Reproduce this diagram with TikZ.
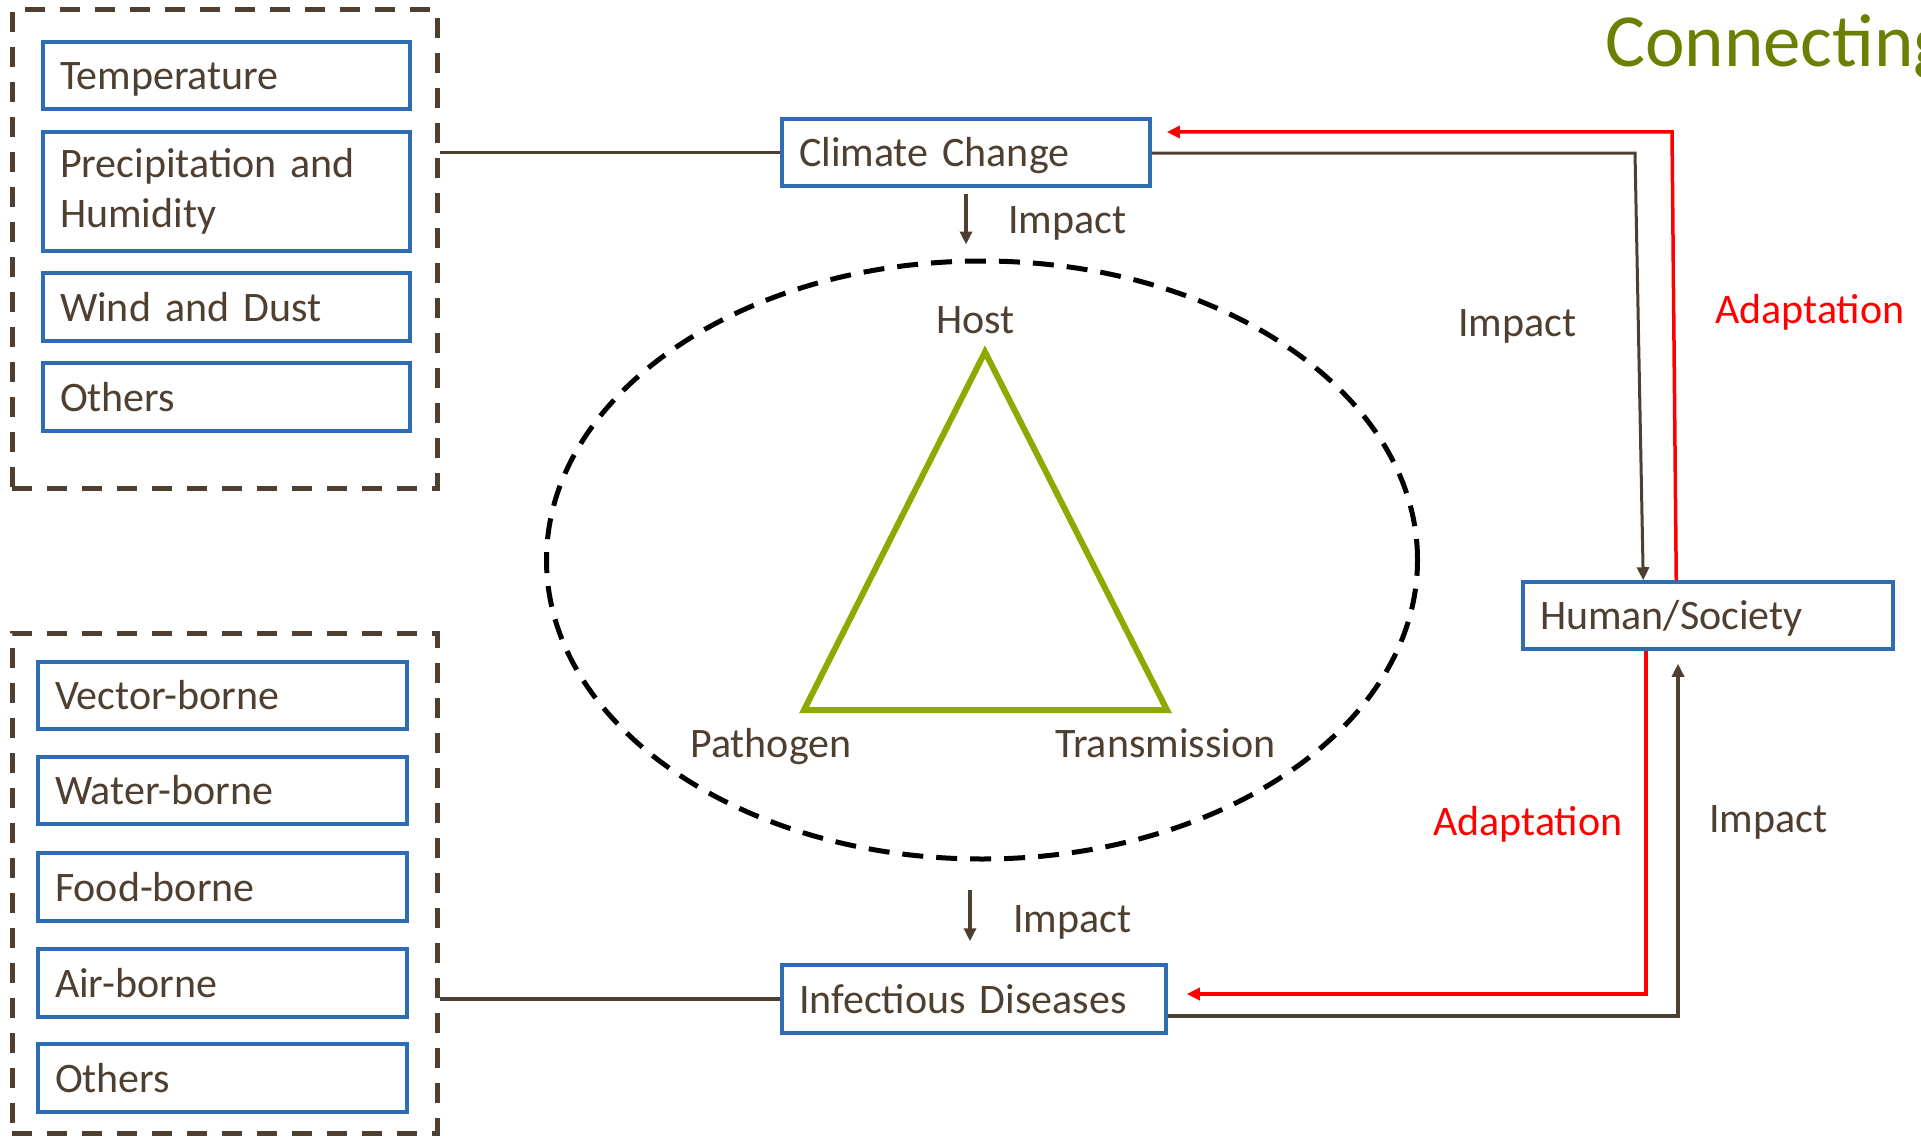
\documentclass[tikz,border=0pt]{standalone}
\usepackage{fontspec}
\setmainfont{Carlito}
\usetikzlibrary{arrows.meta,shapes.geometric,calc}
\definecolor{txt}{RGB}{78,63,48}
\definecolor{bblue}{RGB}{46,109,180}
\definecolor{tgreen}{RGB}{140,170,0}
\definecolor{cgreen}{RGB}{106,128,0}
\definecolor{ared}{RGB}{255,0,0}
\begin{document}
\begin{tikzpicture}[x=1pt,y=-1pt,
  every node/.style={font=\fontsize{42}{50}\selectfont, text=txt, inner sep=0pt},
  catbase/.style={draw=bblue, line width=3.5pt, rectangle, inner xsep=17pt, inner ysep=0pt, align=left},
  catbox/.style={catbase, text height=28pt, text depth=0pt, minimum height=67pt},
  group/.style={draw=txt, line width=5pt, dash pattern=on 20pt off 15pt, rectangle},
  conn/.style={draw=txt, line width=3.5pt},
  redc/.style={draw=ared, line width=3.5pt},
  arr/.style={-{Triangle[length=13pt,width=12pt]}},
  lbl/.style={anchor=base west}
]
\useasboundingbox (0,0) rectangle (1921,1137);
\clip (0,0) rectangle (1921,1137);

% dashed groups
\node[group, minimum width=425pt, minimum height=478pt] (envgroup) at (224.5,249) {};
\node[group, minimum width=425pt, minimum height=500pt] (disgroup) at (224.5,883) {};

% climate factors
\node[catbox, text width=333pt] (temp) at (226.5,75.5) {Temperature};
\node[catbase, text width=333pt, minimum height=119pt] (precip) at (226.5,191.5) {Precipitation and\\Humidity};
\node[catbox, text width=333pt, minimum height=68pt] (wind) at (226.5,307) {Wind and Dust};
\node[catbox, text width=333pt, minimum height=68pt] (oth1) at (226.5,397) {Others};

% disease types
\node[catbox, text width=335pt] (vec) at (222.5,695.5) {Vector-borne};
\node[catbox, text width=335pt] (wat) at (222.5,790.5) {Water-borne};
\node[catbox, text width=335pt, minimum height=68pt] (food) at (222.5,887) {Food-borne};
\node[catbox, text width=335pt, minimum height=68pt] (air) at (222.5,983) {Air-borne};
\node[catbox, text width=335pt, minimum height=68pt] (oth2) at (222.5,1078) {Others};

% main boxes
\node[catbox, text width=334pt] (cc) at (966,152.5) {Climate Change};
\node[catbox, text width=336pt] (hs) at (1708,615.5) {Human/Society};
\node[catbox, text width=350pt, minimum height=68pt] (id) at (974,999) {Infectious Diseases};

% ellipse and triangle
\node[draw=black, ellipse, line width=5pt, dash pattern=on 21pt off 13pt, minimum width=871pt, minimum height=598pt] (ring) at (982,560) {};
\coordinate (th) at (985,352);
\coordinate (tl) at (804,710);
\coordinate (tr) at (1167,710);
\draw[tgreen, line width=6pt] (th) -- (tl) -- (tr) -- cycle;

% labels
\node[lbl] (lhost) at (936,333) {Host};
\node[lbl] (lpath) at (690,757) {Pathogen};
\node[lbl] (ltrans) at (1055,757) {Transmission};
\node[lbl] (imp1) at (1008,233) {Impact};
\node[lbl] (imp2) at (1013,932) {Impact};
\node[lbl] (imp3) at (1458,336) {Impact};
\node[lbl] (imp4) at (1709,832) {Impact};
\node[lbl, text=ared] (ad1) at (1715,323) {Adaptation};
\node[lbl, text=ared] (ad2) at (1433,835) {Adaptation};
\node[lbl, text=cgreen, font=\fontsize{75}{90}\selectfont] (title) at (1605,67) {Connecting};

% connectors
\draw[conn] (cc.west) -- (cc.west -| envgroup.east);
\draw[conn] (id.west) -- (id.west -| disgroup.east);
\draw[conn, arr, shorten <=6pt, shorten >=14pt] (cc.south) -- (cc.south |- ring.north);
\draw[conn, arr, shorten <=28pt, shorten >=22pt] ([xshift=-4pt]id.north |- ring.south) -- ([xshift=-4pt]id.north);

\coordinate (k1) at (1635,153);
\draw[conn, line width=3pt, arr] (cc.east |- k1) -- (k1) -- ($(hs.north west)+(122,0)$);

\coordinate (r1) at (1672,132);
\draw[redc, arr, shorten >=15pt] ($(hs.north west)+(155,0)$) -- (r1) -- (cc.east |- r1);

\coordinate (r2) at (1646,994);
\draw[redc, arr, shorten >=19pt] (hs.south -| r2) -- (r2) -- (id.east |- r2);

\coordinate (b1) at (1678,1016);
\draw[conn, arr, shorten >=13pt] (id.east |- b1) -- (b1) -- (hs.south -| b1);
\end{tikzpicture}
\end{document}
